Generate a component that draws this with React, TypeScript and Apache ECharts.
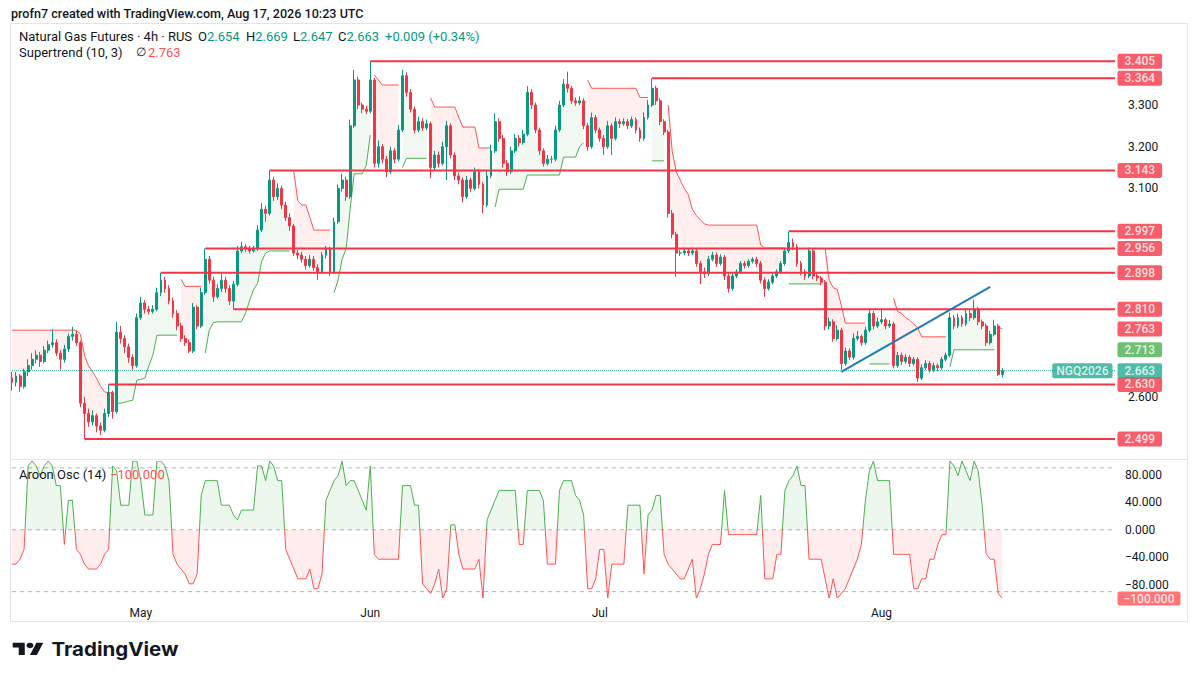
import React, { useEffect, useRef } from "react";
import * as echarts from "echarts";

const _ = null;

// ---- 4h candles ----
const opens = [
  2.645, 2.635, 2.650, 2.625, 2.660, 2.675, 2.690, 2.700, 2.685, 2.712,
  2.725, 2.730, 2.705, 2.690, 2.715, 2.745, 2.750, 2.730, 2.585, 2.560,
  2.540, 2.555, 2.530, 2.520, 2.560, 2.610, 2.565, 2.755, 2.740, 2.720,
  2.695, 2.675, 2.790, 2.825, 2.810, 2.805, 2.810, 2.850, 2.880, 2.860,
  2.830, 2.800, 2.770, 2.740, 2.730, 2.710, 2.815, 2.770, 2.850, 2.930,
  2.880, 2.840, 2.860, 2.880, 2.860, 2.830, 2.870, 2.950, 2.960, 2.955,
  2.950, 2.955, 3.000, 3.050, 3.040, 3.120, 3.080, 3.100, 3.060, 3.030,
  3.010, 2.945, 2.940, 2.930, 2.915, 2.930, 2.910, 2.900, 2.940, 2.955,
  2.900, 3.020, 3.100, 3.120, 3.080, 3.250, 3.360, 3.300, 3.290, 3.285,
  3.360, 3.160, 3.200, 3.170, 3.140, 3.190, 3.170, 3.240, 3.370, 3.330,
  3.290, 3.240, 3.260, 3.245, 3.255, 3.150, 3.180, 3.160, 3.200, 3.250,
  3.180, 3.130, 3.120, 3.080, 3.120, 3.100, 3.140, 3.110, 3.060, 3.130,
  3.190, 3.260, 3.220, 3.160, 3.140, 3.190, 3.220, 3.210, 3.230, 3.330,
  3.300, 3.240, 3.190, 3.160, 3.170, 3.170, 3.240, 3.300, 3.350, 3.340,
  3.310, 3.305, 3.310, 3.250, 3.200, 3.270, 3.240, 3.220, 3.200, 3.250,
  3.220, 3.260, 3.255, 3.260, 3.250, 3.265, 3.240, 3.220, 3.270, 3.300,
  3.340, 3.310, 3.260, 3.235, 3.040, 2.990, 2.945, 2.945, 2.950, 2.945,
  2.950, 2.920, 2.900, 2.895, 2.930, 2.940, 2.920, 2.935, 2.890, 2.860,
  2.890, 2.900, 2.920, 2.915, 2.925, 2.930, 2.920, 2.880, 2.860, 2.875,
  2.890, 2.900, 2.920, 2.950, 2.970, 2.960, 2.920, 2.900, 2.890, 2.950,
  2.890, 2.885, 2.875, 2.770, 2.780, 2.740, 2.760, 2.680, 2.710, 2.695,
  2.740, 2.745, 2.730, 2.760, 2.800, 2.770, 2.780, 2.785, 2.770, 2.775,
  2.675, 2.700, 2.685, 2.695, 2.680, 2.690, 2.645, 2.670, 2.680, 2.665,
  2.675, 2.670, 2.690, 2.700, 2.790, 2.770, 2.790, 2.775, 2.800, 2.790,
  2.810, 2.780, 2.770, 2.730, 2.750, 2.770, 2.654,
];
const highs = [
  2.660, 2.660, 2.655, 2.668, 2.690, 2.705, 2.712, 2.708, 2.722, 2.735,
  2.762, 2.738, 2.712, 2.725, 2.752, 2.768, 2.758, 2.735, 2.600, 2.572,
  2.568, 2.560, 2.538, 2.572, 2.630, 2.615, 2.780, 2.770, 2.748, 2.728,
  2.702, 2.800, 2.840, 2.832, 2.818, 2.820, 2.862, 2.898, 2.888, 2.868,
  2.838, 2.808, 2.778, 2.748, 2.738, 2.825, 2.820, 2.862, 2.956, 2.938,
  2.888, 2.870, 2.895, 2.888, 2.868, 2.878, 2.962, 2.972, 2.966, 2.962,
  2.962, 3.012, 3.065, 3.058, 3.143, 3.128, 3.112, 3.106, 3.068, 3.040,
  3.015, 2.952, 2.948, 2.938, 2.940, 2.938, 2.918, 2.948, 2.962, 2.960,
  3.030, 3.110, 3.135, 3.128, 3.265, 3.384, 3.368, 3.306, 3.298, 3.405,
  3.365, 3.215, 3.206, 3.178, 3.200, 3.196, 3.252, 3.384, 3.378, 3.338,
  3.296, 3.272, 3.268, 3.265, 3.260, 3.190, 3.188, 3.212, 3.262, 3.256,
  3.186, 3.138, 3.126, 3.130, 3.126, 3.150, 3.146, 3.116, 3.142, 3.205,
  3.280, 3.268, 3.228, 3.168, 3.200, 3.230, 3.228, 3.240, 3.345, 3.338,
  3.306, 3.246, 3.196, 3.180, 3.178, 3.250, 3.310, 3.362, 3.380, 3.346,
  3.318, 3.320, 3.316, 3.256, 3.282, 3.276, 3.246, 3.228, 3.262, 3.256,
  3.270, 3.266, 3.268, 3.266, 3.272, 3.270, 3.246, 3.282, 3.312, 3.364,
  3.346, 3.316, 3.266, 3.240, 3.048, 2.996, 2.952, 2.958, 2.955, 2.958,
  2.955, 2.926, 2.910, 2.938, 2.948, 2.946, 2.942, 2.940, 2.896, 2.898,
  2.906, 2.926, 2.926, 2.930, 2.935, 2.936, 2.926, 2.886, 2.882, 2.896,
  2.906, 2.926, 2.956, 2.997, 2.980, 2.966, 2.926, 2.906, 2.958, 2.956,
  2.898, 2.890, 2.880, 2.790, 2.786, 2.772, 2.766, 2.718, 2.716, 2.752,
  2.758, 2.750, 2.768, 2.812, 2.806, 2.790, 2.812, 2.790, 2.785, 2.780,
  2.708, 2.706, 2.702, 2.700, 2.696, 2.695, 2.678, 2.688, 2.686, 2.682,
  2.680, 2.696, 2.706, 2.802, 2.796, 2.800, 2.796, 2.812, 2.808, 2.833,
  2.816, 2.786, 2.776, 2.758, 2.785, 2.775, 2.669,
];
const lows = [
  2.615, 2.625, 2.612, 2.620, 2.650, 2.665, 2.680, 2.672, 2.680, 2.705,
  2.718, 2.698, 2.665, 2.682, 2.708, 2.735, 2.722, 2.575, 2.499, 2.528,
  2.532, 2.515, 2.509, 2.515, 2.552, 2.548, 2.560, 2.728, 2.705, 2.682,
  2.665, 2.670, 2.785, 2.800, 2.798, 2.800, 2.805, 2.842, 2.850, 2.822,
  2.790, 2.760, 2.732, 2.722, 2.705, 2.705, 2.762, 2.765, 2.845, 2.872,
  2.828, 2.835, 2.852, 2.850, 2.820, 2.810, 2.865, 2.945, 2.948, 2.944,
  2.946, 2.950, 2.995, 3.020, 3.035, 3.070, 3.072, 3.050, 3.022, 2.998,
  2.938, 2.930, 2.922, 2.905, 2.910, 2.902, 2.880, 2.895, 2.932, 2.890,
  2.895, 3.015, 3.092, 3.070, 3.075, 3.245, 3.290, 3.280, 3.278, 3.280,
  3.150, 3.150, 3.160, 3.127, 3.135, 3.160, 3.165, 3.235, 3.320, 3.282,
  3.232, 3.235, 3.238, 3.240, 3.125, 3.142, 3.150, 3.155, 3.120, 3.172,
  3.120, 3.110, 3.067, 3.075, 3.092, 3.095, 3.100, 3.040, 3.055, 3.125,
  3.185, 3.212, 3.150, 3.130, 3.135, 3.185, 3.200, 3.205, 3.225, 3.290,
  3.232, 3.180, 3.152, 3.155, 3.160, 3.165, 3.235, 3.295, 3.330, 3.302,
  3.298, 3.300, 3.242, 3.190, 3.195, 3.232, 3.212, 3.180, 3.195, 3.180,
  3.215, 3.245, 3.250, 3.242, 3.245, 3.232, 3.212, 3.215, 3.265, 3.295,
  3.300, 3.252, 3.228, 3.030, 2.980, 2.888, 2.938, 2.940, 2.938, 2.940,
  2.912, 2.870, 2.885, 2.890, 2.925, 2.912, 2.915, 2.880, 2.850, 2.855,
  2.885, 2.895, 2.908, 2.910, 2.920, 2.912, 2.872, 2.840, 2.855, 2.870,
  2.885, 2.895, 2.915, 2.945, 2.952, 2.912, 2.892, 2.880, 2.885, 2.882,
  2.878, 2.868, 2.760, 2.762, 2.732, 2.735, 2.665, 2.675, 2.688, 2.690,
  2.735, 2.722, 2.725, 2.755, 2.762, 2.765, 2.775, 2.762, 2.765, 2.668,
  2.670, 2.676, 2.680, 2.672, 2.675, 2.636, 2.640, 2.665, 2.658, 2.660,
  2.662, 2.665, 2.685, 2.695, 2.762, 2.765, 2.768, 2.770, 2.782, 2.785,
  2.772, 2.762, 2.722, 2.725, 2.745, 2.650, 2.647,
];
const closes = [
  2.635, 2.650, 2.625, 2.660, 2.675, 2.690, 2.700, 2.685, 2.712, 2.725,
  2.730, 2.705, 2.690, 2.715, 2.745, 2.750, 2.730, 2.585, 2.560, 2.540,
  2.555, 2.530, 2.520, 2.560, 2.610, 2.565, 2.755, 2.740, 2.720, 2.695,
  2.675, 2.790, 2.825, 2.810, 2.805, 2.810, 2.850, 2.880, 2.860, 2.830,
  2.800, 2.770, 2.740, 2.730, 2.710, 2.815, 2.770, 2.850, 2.930, 2.880,
  2.840, 2.860, 2.880, 2.860, 2.830, 2.870, 2.950, 2.960, 2.955, 2.950,
  2.955, 3.000, 3.050, 3.040, 3.120, 3.080, 3.100, 3.060, 3.030, 3.010,
  2.945, 2.940, 2.930, 2.915, 2.930, 2.910, 2.900, 2.940, 2.955, 2.900,
  3.020, 3.100, 3.120, 3.080, 3.250, 3.360, 3.300, 3.290, 3.285, 3.360,
  3.160, 3.200, 3.170, 3.140, 3.190, 3.170, 3.240, 3.370, 3.330, 3.290,
  3.240, 3.260, 3.245, 3.255, 3.150, 3.180, 3.160, 3.200, 3.250, 3.180,
  3.130, 3.120, 3.080, 3.120, 3.100, 3.140, 3.110, 3.060, 3.130, 3.190,
  3.260, 3.220, 3.160, 3.140, 3.190, 3.220, 3.210, 3.230, 3.330, 3.300,
  3.240, 3.190, 3.160, 3.170, 3.170, 3.240, 3.300, 3.350, 3.340, 3.310,
  3.305, 3.310, 3.250, 3.200, 3.270, 3.240, 3.220, 3.200, 3.250, 3.220,
  3.260, 3.255, 3.260, 3.250, 3.265, 3.240, 3.220, 3.270, 3.300, 3.340,
  3.310, 3.260, 3.235, 3.040, 2.990, 2.945, 2.945, 2.950, 2.945, 2.950,
  2.920, 2.900, 2.895, 2.930, 2.940, 2.920, 2.935, 2.890, 2.860, 2.890,
  2.900, 2.920, 2.915, 2.925, 2.930, 2.920, 2.880, 2.860, 2.875, 2.890,
  2.900, 2.920, 2.950, 2.970, 2.960, 2.920, 2.900, 2.890, 2.950, 2.890,
  2.885, 2.875, 2.770, 2.780, 2.740, 2.760, 2.680, 2.710, 2.695, 2.740,
  2.745, 2.730, 2.760, 2.800, 2.770, 2.780, 2.785, 2.770, 2.775, 2.675,
  2.700, 2.685, 2.695, 2.680, 2.690, 2.645, 2.670, 2.680, 2.665, 2.675,
  2.670, 2.690, 2.700, 2.790, 2.770, 2.790, 2.775, 2.800, 2.790, 2.810,
  2.780, 2.770, 2.730, 2.750, 2.770, 2.654, 2.663,
];

// ---- Supertrend (10, 3) ----
const superUp = [
  _, _, _, _, _, _, _, _, _, _,
  _, _, _, _, _, _, _, _, _, _,
  _, _, _, _, _, _, 2.585, 2.585, 2.587, 2.59,
  2.592, 2.64, 2.642, 2.645, 2.675, 2.70, 2.748, 2.748, 2.748, 2.748,
  2.748, 2.748, _, _, _, _, _, _, 2.705, 2.76,
  2.778, 2.78, 2.78, 2.78, 2.78, 2.78, 2.78, 2.78, 2.80, 2.83,
  2.857, 2.872, 2.925, 2.945, 2.95, 2.95, 2.95, 2.95, 2.95, 2.95,
  _, _, _, _, _, _, _, _, _, _,
  2.85, 2.88, 2.93, 2.955, 3.05, 3.135, 3.135, 3.135, 3.155, 3.228,
  _, _, _, _, _, _, _, 3.15, 3.172, 3.172,
  3.172, 3.172, 3.172, 3.172, _, _, _, _, _, _,
  _, _, _, _, _, _, _, _, _, _,
  3.055, 3.098, 3.098, 3.098, 3.098, 3.098, 3.098, 3.098, 3.132, 3.132,
  3.132, 3.132, 3.132, 3.132, 3.132, 3.132, 3.132, 3.175, 3.175, 3.175,
  3.175, 3.20, 3.21, _, _, _, _, _, _, _,
  _, _, _, _, _, _, _, _, _, 3.166,
  3.166, 3.166, 3.166, _, _, _, _, _, _, _,
  _, _, _, _, _, _, _, _, _, _,
  _, _, _, _, _, _, _, _, _, _,
  _, _, _, 2.871, 2.871, 2.871, 2.871, 2.871, 2.871, 2.871,
  2.871, 2.871, _, _, _, _, _, _, _, _,
  _, _, _, 2.679, 2.679, 2.679, 2.679, 2.679, 2.679, _,
  _, _, _, _, _, _, _, _, _, _,
  _, _, _, 2.672, 2.713, 2.713, 2.713, 2.713, 2.713, 2.713,
  2.713, 2.713, 2.713, 2.713, 2.713, _, _,
];
const superDown = [
  2.76, 2.76, 2.76, 2.76, 2.76, 2.76, 2.76, 2.76, 2.76, 2.76,
  2.76, 2.76, 2.76, 2.76, 2.76, 2.76, 2.76, 2.75, 2.70, 2.675,
  2.66, 2.645, 2.625, 2.612, 2.61, 2.61, _, _, _, _,
  _, _, _, _, _, _, _, _, _, _,
  _, _, 2.882, 2.865, 2.865, 2.865, 2.865, 2.865, _, _,
  _, _, _, _, _, _, _, _, _, _,
  _, _, _, _, _, _, _, _, _, _,
  3.14, 3.07, 3.06, 3.06, 3.03, 3.0, 3.0, 3.0, 3.0, 3.0,
  _, _, _, _, _, _, _, _, _, _,
  3.372, 3.36, 3.348, 3.348, 3.348, 3.348, 3.348, _, _, _,
  _, _, _, _, 3.317, 3.295, 3.295, 3.295, 3.295, 3.295,
  3.295, 3.27, 3.247, 3.247, 3.247, 3.247, 3.197, 3.197, 3.197, 3.197,
  _, _, _, _, _, _, _, _, _, _,
  _, _, _, _, _, _, _, _, _, _,
  _, _, _, 3.36, 3.34, 3.34, 3.34, 3.34, 3.34, 3.34,
  3.34, 3.34, 3.34, 3.34, 3.34, 3.34, 3.318, 3.318, 3.318, _,
  _, _, _, 3.30, 3.19, 3.14, 3.12, 3.10, 3.085, 3.05,
  3.035, 3.024, 3.015, 3.012, 3.012, 3.012, 3.012, 3.012, 3.012, 3.012,
  3.012, 3.012, 3.012, 3.012, 3.012, 3.012, 2.964, 2.957, 2.957, 2.957,
  2.957, 2.957, 2.957, _, _, _, _, _, _, _,
  _, _, 2.957, 2.88, 2.862, 2.858, 2.82, 2.777, 2.777, 2.777,
  2.777, 2.777, 2.777, _, _, _, _, _, _, 2.837,
  2.805, 2.80, 2.79, 2.784, 2.775, 2.765, 2.744, 2.744, 2.744, 2.744,
  2.744, 2.744, 2.744, _, _, _, _, _, _, _,
  _, _, _, _, _, 2.768, 2.763,
];

// ---- Aroon Oscillator (14) ----
const aroonOsc = [
  -50, -50, -42.86, -28.57, 92.86, 100, 92.86, 78.57, 92.86, 100,
  92.86, 64.29, 64.29, -21.43, 42.86, 42.86, -28.57, -35.71, -50, -57.14,
  -57.14, -57.14, -50, -35.71, -28.57, 92.86, 85.71, 35.71, 35.71, 35.71,
  100, 100, 71.43, 21.43, 21.43, 21.43, 100, 100, 92.86, 71.43,
  -35.71, -50, -57.14, -64.29, -78.57, -78.57, -64.29, 50, 71.43, 71.43,
  71.43, 71.43, 35.71, 35.71, 35.71, 21.43, 14.29, 28.57, 28.57, 28.57,
  28.57, 92.86, 92.86, 71.43, 100, 92.86, 71.43, 71.43, -28.57, -42.86,
  -57.14, -71.43, -71.43, -71.43, -57.14, -85.71, -85.71, -64.29, 42.86, 57.14,
  71.43, 78.57, 100, 64.29, 71.43, 71.43, 57.14, 42.86, 28.57, 92.86,
  -35.71, -42.86, -42.86, -42.86, -42.86, -42.86, -42.86, 64.29, 64.29, 64.29,
  35.71, 35.71, -78.57, -85.71, -92.86, -78.57, -57.14, -100, -85.71, 7.14,
  7.14, -35.71, -57.14, -57.14, -57.14, -57.14, -42.86, -100, 14.29, 28.57,
  42.86, 57.14, 57.14, 57.14, 57.14, 57.14, -21.43, -21.43, 57.14, 57.14,
  57.14, 57.14, 42.86, -50, -50, -50, 57.14, 71.43, 71.43, 71.43,
  50, 42.86, 21.43, -85.71, -85.71, -71.43, -28.57, -28.57, -100, -50,
  -50, -50, -50, 35.71, 35.71, 35.71, 35.71, -64.29, 21.43, 28.57,
  50, 50, -35.71, -50, -57.14, -64.29, -71.43, -71.43, -57.14, -42.86,
  -100, -85.71, -64.29, -35.71, -21.43, -21.43, -21.43, 57.14, -7.14, -7.14,
  -7.14, -7.14, -7.14, -7.14, -7.14, -7.14, 50, -71.43, -71.43, -71.43,
  -35.71, -35.71, 57.14, 71.43, 78.57, 92.86, 64.29, 64.29, -42.86, -42.86,
  -42.86, -42.86, -71.43, -100, -71.43, -100, -92.86, -85.71, -71.43, -57.14,
  -42.86, -21.43, 42.86, 85.71, 100, 71.43, 71.43, 71.43, 71.43, -35.71,
  -35.71, -35.71, -35.71, -35.71, -85.71, -85.71, -71.43, -71.43, -42.86, -42.86,
  -21.43, -7.14, -7.14, 100, 92.86, 78.57, 100, 85.71, 71.43, 100,
  85.71, 35.71, -35.71, -42.86, -42.86, -92.86, -100,
];

// ---- axis / annotation data ----
const monthNames = ["May", "Jun", "Jul", "Aug"];
const monthIndex = [32, 89, 146, 216];
const levelPrices = [3.405, 3.364, 3.143, 2.997, 2.956, 2.898, 2.81, 2.63, 2.499];
const levelStart = [89, 159, 64, 193, 48, 37, 55, 24, 18];
const trendStart = [206, 2.66];
const trendEnd = [243, 2.864];
const priceTicks = [2.6, 3.1, 3.2, 3.3];
const aroonTicks = [-80, -40, 0, 40, 80];
const aroonGuides = [90, 0, -90];
const blankBars = 28;
const tickerName = "NGQ2026";

const RED = "#F23645";
const ST_RED = "#FF5252";
const GREEN = "#4CAF50";
const UP = "#089981";
const TEAL = "#22AB94";
const BLUE = "#2179B5";
const TEXT = "#131722";
const FONT = "Roboto, 'Noto Sans', sans-serif";

const fmt = (v: number) => (v < 0 ? "\u2212" : "") + Math.abs(v).toFixed(3);

export default function App() {
  const ref = useRef<HTMLDivElement>(null);

  useEffect(() => {
    if (!ref.current) return;
    const chart = echarts.init(ref.current, null, { renderer: "svg" });

    const N = closes.length;
    const total = N + blankBars;
    const lastCat = total - 1;
    const cats = Array.from({ length: total }, (__, i) => String(i));
    const candleData = closes.map((c, i) => [opens[i], c, lows[i], highs[i]]);
    const bodyMid = closes.map((c, i) => (opens[i] + c) / 2);
    const upBase = superUp.map((v, i) => (v == null ? null : bodyMid[i]));
    const upBand = superUp.map((v, i) => (v == null ? null : (v as number) - bodyMid[i]));
    const dnBase = superDown.map((v, i) => (v == null ? null : bodyMid[i]));
    const dnBand = superDown.map((v, i) => (v == null ? null : (v as number) - bodyMid[i]));

    const li = N - 1;
    const lastOpen = opens[li];
    const lastHigh = highs[li];
    const lastLow = lows[li];
    const lastClose = closes[li];
    const chg = lastClose - closes[li - 1];
    const pct = (chg / closes[li - 1]) * 100;
    const sign = chg >= 0 ? "+" : "\u2212";
    const stDownLast = superDown[li] as number;
    let stUpLast = 0;
    for (let i = li; i >= 0; i--) {
      if (superUp[i] != null) { stUpLast = superUp[i] as number; break; }
    }
    const aroonLast = aroonOsc[li];

    const boxLabel = {
      show: true, position: "right", distance: 2, color: "#ffffff", fontSize: 12, fontWeight: 500,
      fontFamily: FONT, lineHeight: 13, borderRadius: 2, padding: [1, 7, 1, 7],
    };
    const box = (value: number, color: string, text?: string, position = "right", padding = [1, 7, 1, 7]) => ({
      value: [lastCat, value],
      label: { position, backgroundColor: color, formatter: text ?? fmt(value), padding },
    });

    const legendRich = (key: string, val: string, x: number) => ({
      type: "text",
      x,
      y: 36,
      z: 20,
      style: {
        text: `{k|${key}}{v|${val}}`,
        verticalAlign: "middle",
        rich: {
          k: { fill: TEXT, fontSize: 13, fontFamily: FONT },
          v: { fill: UP, fontSize: 13, fontFamily: FONT },
        },
      },
    });

    const levelSeries = levelPrices.map((p, k) => ({
      type: "line", xAxisIndex: 0, yAxisIndex: 0,
      data: [[levelStart[k], p], [lastCat, p]],
      showSymbol: false, symbol: "none", silent: true, z: 4,
      lineStyle: { color: RED, width: 2 },
    }));

    const guideSeries = aroonGuides.map((g) => ({
      type: "line", xAxisIndex: 1, yAxisIndex: 1,
      data: [[0, g], [lastCat, g]],
      showSymbol: false, symbol: "none", silent: true, z: 1,
      lineStyle: { color: "#B2B5BE", width: 1, type: [4, 4] },
    }));

    const sx = 0.862;
    const sy = 0.683;

    const option: any = {
      animation: false,
      backgroundColor: "#ffffff",
      textStyle: { fontFamily: FONT },
      grid: [
        { left: 10, top: 23, width: 1107, height: 436, outerBoundsMode: "none" },
        { left: 10, top: 461, width: 1107, height: 137.5, outerBoundsMode: "none" },
      ],
      xAxis: [
        {
          type: "category", gridIndex: 0, data: cats, boundaryGap: true,
          axisLine: { show: false }, axisTick: { show: false }, axisLabel: { show: false }, splitLine: { show: false },
        },
        {
          type: "category", gridIndex: 1, data: cats, boundaryGap: true,
          axisLine: { show: false }, axisTick: { show: false }, splitLine: { show: false },
          axisLabel: {
            show: true,
            interval: (idx: number) => monthIndex.includes(idx),
            formatter: (_v: string, idx: number) => {
              const k = monthIndex.indexOf(idx);
              return k >= 0 ? monthNames[k] : "";
            },
            color: TEXT, fontSize: 12, margin: 8, fontFamily: FONT,
          },
        },
      ],
      yAxis: [
        {
          type: "value", gridIndex: 0, position: "right", min: 2.4511, max: 3.4966,
          splitLine: { show: false }, axisLine: { show: false }, axisTick: { show: false },
          axisLabel: { customValues: priceTicks, formatter: (v: number) => fmt(v), color: TEXT, fontSize: 12, margin: 11, fontFamily: FONT },
        },
        {
          type: "value", gridIndex: 1, position: "right", min: -100, max: 100,
          splitLine: { show: false }, axisLine: { show: false }, axisTick: { show: false },
          axisLabel: { customValues: aroonTicks, formatter: (v: number) => fmt(v), color: TEXT, fontSize: 12, margin: 8, fontFamily: FONT },
        },
      ],
      visualMap: [
        {
          type: "piecewise", show: false, seriesIndex: 5, dimension: 1,
          pieces: [
            { gte: -100, lte: 0, color: ST_RED },
            { gt: 0, lte: 100, color: GREEN },
          ],
        },
      ],
      series: [
        {
          type: "candlestick", name: "NG", xAxisIndex: 0, yAxisIndex: 0, data: candleData,
          barWidth: 2.4, z: 3,
          itemStyle: { color: UP, color0: RED, borderColor: UP, borderColor0: RED, borderWidth: 1 },
        },
        {
          type: "line", xAxisIndex: 0, yAxisIndex: 0, data: upBase, stack: "stUp", stackStrategy: "all",
          showSymbol: false, symbol: "none", lineStyle: { opacity: 0, width: 0 }, silent: true, z: 1,
        },
        {
          type: "line", xAxisIndex: 0, yAxisIndex: 0, data: upBand, stack: "stUp", stackStrategy: "all",
          showSymbol: false, symbol: "none", lineStyle: { color: GREEN, width: 1 },
          areaStyle: { color: "rgba(76,175,80,0.12)" }, silent: true, z: 2,
        },
        {
          type: "line", xAxisIndex: 0, yAxisIndex: 0, data: dnBase, stack: "stDn", stackStrategy: "all",
          showSymbol: false, symbol: "none", lineStyle: { opacity: 0, width: 0 }, silent: true, z: 1,
        },
        {
          type: "line", xAxisIndex: 0, yAxisIndex: 0, data: dnBand, stack: "stDn", stackStrategy: "all",
          showSymbol: false, symbol: "none", lineStyle: { color: ST_RED, width: 1 },
          areaStyle: { color: "rgba(255,82,82,0.13)" }, silent: true, z: 2,
        },
        {
          type: "line", xAxisIndex: 1, yAxisIndex: 1, data: aroonOsc,
          showSymbol: false, symbol: "none", lineStyle: { width: 1 },
          areaStyle: { opacity: 0.1 }, silent: true, z: 2,
        },
        ...levelSeries,
        {
          type: "line", xAxisIndex: 0, yAxisIndex: 0, data: [trendStart, trendEnd],
          showSymbol: false, symbol: "none", silent: true, z: 4,
          lineStyle: { color: BLUE, width: 2 },
        },
        {
          type: "line", xAxisIndex: 0, yAxisIndex: 0, data: [[0, lastClose], [lastCat, lastClose]],
          showSymbol: false, symbol: "none", silent: true, z: 2,
          lineStyle: { color: UP, width: 1, type: "dotted", opacity: 0.8 },
        },
        ...guideSeries,
        {
          type: "scatter", xAxisIndex: 0, yAxisIndex: 0, symbol: "rect", symbolSize: 1, silent: true, z: 6,
          itemStyle: { color: "rgba(0,0,0,0)" },
          label: boxLabel,
          data: [
            ...levelPrices.map((p) => box(p, RED)),
            box(stDownLast, RED),
            box(stUpLast, GREEN),
            box(lastClose, TEAL),
            box(lastClose, TEAL, tickerName, "left", [1, 4, 1, 4]),
          ],
        },
        {
          type: "scatter", xAxisIndex: 1, yAxisIndex: 1, symbol: "rect", symbolSize: 1, silent: true, z: 6,
          itemStyle: { color: "rgba(0,0,0,0)" },
          label: { ...boxLabel, padding: [1, 6, 0, 6], backgroundColor: ST_RED, offset: [0, 0] },
          data: [{ value: [lastCat, aroonLast], label: { formatter: fmt(aroonLast) } }],
        },
      ],
      graphic: [
        {
          type: "rect", silent: true, z: 0,
          shape: { x: 10.5, y: 23.5, width: 1177, height: 598 },
          style: { fill: "none", stroke: "#E0E3EB", lineWidth: 1 },
        },
        {
          type: "line", silent: true, z: 0,
          shape: { x1: 10.5, y1: 459.5, x2: 1187.5, y2: 459.5 },
          style: { stroke: "#E0E3EB", lineWidth: 1 },
        },
        {
          type: "text", x: 11, y: 13, z: 20,
          style: {
            text: "profn7 created with TradingView.com, Aug 17, 2026 10:23 UTC",
            fill: TEXT, fontSize: 12.6, fontWeight: 500, fontFamily: FONT, verticalAlign: "middle",
          },
        },
        {
          type: "text", x: 19, y: 36, z: 20,
          style: { text: "Natural Gas Futures \u00b7 4h \u00b7 RUS", fill: TEXT, fontSize: 13, fontFamily: FONT, verticalAlign: "middle" },
        },
        legendRich("O", lastOpen.toFixed(3), 198),
        legendRich("H", lastHigh.toFixed(3), 246),
        legendRich("L", lastLow.toFixed(3), 293),
        legendRich("C", lastClose.toFixed(3), 338),
        {
          type: "text", x: 385, y: 36, z: 20,
          style: {
            text: `${sign}${Math.abs(chg).toFixed(3)} (${sign}${Math.abs(pct).toFixed(2)}%)`,
            fill: UP, fontSize: 13, fontFamily: FONT, verticalAlign: "middle",
          },
        },
        {
          type: "text", x: 19, y: 52, z: 20,
          style: { text: "Supertrend (10, 3)", fill: TEXT, fontSize: 13, fontFamily: FONT, verticalAlign: "middle" },
        },
        {
          type: "text", x: 136, y: 52, z: 20,
          style: { text: "\u2205", fill: TEXT, fontSize: 12, fontFamily: FONT, verticalAlign: "middle" },
        },
        {
          type: "text", x: 148, y: 52, z: 20,
          style: { text: stDownLast.toFixed(3), fill: ST_RED, fontSize: 13, fontFamily: FONT, verticalAlign: "middle" },
        },
        {
          type: "text", x: 19, y: 474, z: 20,
          style: { text: "Aroon Osc (14)", fill: TEXT, fontSize: 13, fontFamily: FONT, verticalAlign: "middle" },
        },
        {
          type: "text", x: 110, y: 474, z: 20,
          style: { text: fmt(aroonLast), fill: ST_RED, fontSize: 13, fontFamily: FONT, verticalAlign: "middle" },
        },
        {
          type: "group", x: 12.7, y: 642.7 - 4 * sy, scaleX: sx, scaleY: sy, z: 20,
          children: [
            { type: "polygon", shape: { points: [[0, 4], [14, 4], [14, 22], [7, 22], [7, 11], [0, 11]] }, style: { fill: TEXT } },
            { type: "circle", shape: { cx: 20, cy: 8, r: 4 }, style: { fill: TEXT } },
            { type: "polygon", shape: { points: [[20, 22], [27.5, 4], [35.5, 4], [28, 22]] }, style: { fill: TEXT } },
          ],
        },
        {
          type: "text", x: 51.5, y: 649, z: 20, scaleX: 1.08,
          style: { text: "TradingView", fill: TEXT, fontSize: 19, fontWeight: 700, fontFamily: "Inter, Roboto, sans-serif", verticalAlign: "middle" },
        },
      ],
    };

    chart.setOption(option);
    return () => chart.dispose();
  }, []);

  return (
    <div
      ref={ref}
      style={{ position: "absolute", left: 0, top: 0, width: 1200, height: 675, background: "#ffffff" }}
    />
  );
}
